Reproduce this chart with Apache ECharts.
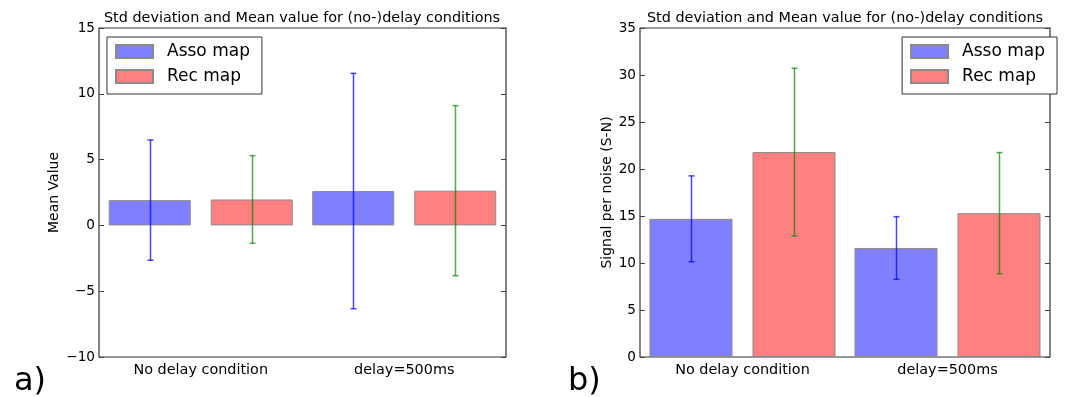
<!DOCTYPE html>
<html>
<head>
<meta charset="utf-8">
<script src="https://cdn.jsdelivr.net/npm/echarts@6/dist/echarts.min.js"></script>
<style>
html,body{margin:0;padding:0;background:#fff;}
#chart{width:1078px;height:397px;}
</style>
</head>
<body>
<div id="chart"></div>
<script>
// ---- data ----
const categories = ['No delay condition', 'delay=500ms'];
const seriesNames = ['Asso map', 'Rec map'];
const titleText = 'Std deviation and Mean value for (no-)delay conditions';
// chart a) Mean Value
const aAssoMean = [1.92, 2.61];
const aAssoStd  = [4.57, 8.94];
const aRecMean  = [1.97, 2.64];
const aRecStd   = [3.33, 6.46];
const aTicks = { min: -10, max: 15, interval: 5 };
// chart b) Signal per noise
const bAssoMean = [14.7, 11.6];
const bAssoStd  = [4.57, 3.33];
const bRecMean  = [21.8, 15.3];
const bRecStd   = [8.92, 6.45];
const bTicks = { min: 0, max: 35, interval: 5 };

// ---- styles ----
const FONT = 'DejaVu Sans';
const BLUE_FILL = '#8080ff';
const RED_FILL = '#ff8080';
const BLUE_ERR = 'rgba(0,0,255,0.72)';
const GREEN_ERR = 'rgba(0,128,0,0.68)';
const BAR_W = [82, 83];
const BAR_GAP = [20, 20];

function errData(means, stds) {
  return means.map((m, i) => [i, m - stds[i], m + stds[i]]);
}
function errSeries(name, means, stds, color, side, gi) {
  const off = side * (BAR_W[gi] + BAR_GAP[gi]) / 2;
  return {
    type: 'custom',
    name: name + ' err',
    xAxisIndex: gi,
    yAxisIndex: gi * 2,
    z: 5,
    silent: true,
    data: errData(means, stds),
    renderItem: function (params, api) {
      const c = api.value(0);
      const lo = api.coord([c, api.value(1)]);
      const hi = api.coord([c, api.value(2)]);
      const x = Math.round(lo[0] + off) + 0.5;
      const cap = 3;
      const st = { stroke: color, lineWidth: 1.5, fill: null };
      return {
        type: 'group',
        children: [
          { type: 'line', shape: { x1: x, y1: lo[1], x2: x, y2: hi[1] }, style: st },
          { type: 'line', shape: { x1: x - cap, y1: lo[1], x2: x + cap, y2: lo[1] }, style: st },
          { type: 'line', shape: { x1: x - cap, y1: hi[1], x2: x + cap, y2: hi[1] }, style: st }
        ]
      };
    }
  };
}
function barSeries(name, data, fill, gi) {
  return {
    type: 'bar',
    name: name,
    xAxisIndex: gi,
    yAxisIndex: gi * 2,
    data: data,
    barWidth: BAR_W[gi],
    barGap: (BAR_GAP[gi] / BAR_W[gi] * 100).toFixed(1) + '%',
    itemStyle: { color: fill, borderColor: '#8a8a8a', borderWidth: 1 },
    emphasis: { disabled: true }
  };
}
const minus = v => String(v).replace('-', '\u2212');
function yAx(gi, t, pos, name, nameGap) {
  return {
    type: 'value',
    gridIndex: gi,
    position: pos,
    min: t.min, max: t.max, interval: t.interval,
    name: name || '',
    nameLocation: 'middle',
    nameGap: nameGap || 0,
    nameTextStyle: { fontFamily: FONT, fontSize: 14, color: '#000' },
    axisLine: { show: false },
    axisTick: { show: true, inside: true, length: 5, lineStyle: { color: '#444' } },
    axisLabel: { show: pos === 'left', margin: 4, fontFamily: FONT, fontSize: 13.6, color: '#000', formatter: minus },
    splitLine: { show: false }
  };
}
function xAx(gi) {
  return {
    type: 'category',
    gridIndex: gi,
    data: categories,
    axisLine: { show: false },
    axisTick: { show: false },
    axisLabel: { margin: 6, fontFamily: FONT, fontSize: 14.4, color: '#000' },
    splitLine: { show: false }
  };
}
const legendBase = {
  orient: 'vertical',
  data: seriesNames,
  top: 37,
  itemWidth: 37,
  itemHeight: 13,
  itemGap: 8,
  padding: [6, 12, 9, 8],
  borderColor: '#333',
  borderWidth: 1,
  backgroundColor: '#fff',
  selectedMode: false,
  textStyle: { fontFamily: FONT, fontSize: 17, color: '#000', padding: [0, 0, 0, 9] },
  icon: 'rect'
};

const chart = echarts.init(document.getElementById('chart'), null, { renderer: 'canvas' });
chart.setOption({
  animation: false,
  backgroundColor: '#fff',
  title: [
    { text: titleText, left: 302, top: 11, textAlign: 'center', padding: 0,
      textStyle: { fontFamily: FONT, fontSize: 14.4, fontWeight: 'normal', color: '#000' } },
    { text: titleText, left: 845, top: 11, textAlign: 'center', padding: 0,
      textStyle: { fontFamily: FONT, fontSize: 14.4, fontWeight: 'normal', color: '#000' } }
  ],
  legend: [
    Object.assign({}, legendBase, { left: 107 }),
    Object.assign({}, legendBase, { right: 21 })
  ],
  grid: [
    { left: 99, top: 28, width: 407, height: 329, show: true, borderColor: '#333', borderWidth: 1.2, backgroundColor: 'transparent' },
    { left: 640, top: 28, width: 410, height: 329, show: true, borderColor: '#333', borderWidth: 1.2, backgroundColor: 'transparent' }
  ],
  xAxis: [xAx(0), xAx(1)],
  yAxis: [
    yAx(0, aTicks, 'left', 'Mean Value', 38),
    yAx(0, aTicks, 'right'),
    yAx(1, bTicks, 'left', 'Signal per noise (S-N)', 22),
    yAx(1, bTicks, 'right')
  ],
  series: [
    barSeries(seriesNames[0], aAssoMean, BLUE_FILL, 0),
    barSeries(seriesNames[1], aRecMean, RED_FILL, 0),
    barSeries(seriesNames[0], bAssoMean, BLUE_FILL, 1),
    barSeries(seriesNames[1], bRecMean, RED_FILL, 1),
    errSeries('Asso map', aAssoMean, aAssoStd, BLUE_ERR, -1, 0),
    errSeries('Rec map', aRecMean, aRecStd, GREEN_ERR, 1, 0),
    errSeries('Asso map', bAssoMean, bAssoStd, BLUE_ERR, -1, 1),
    errSeries('Rec map', bRecMean, bRecStd, GREEN_ERR, 1, 1)
  ],
  graphic: [
    { type: 'text', left: 14, top: 366, style: { text: 'a)', font: '32px "DejaVu Sans"', fill: '#000' } },
    { type: 'text', left: 568, top: 366, style: { text: 'b)', font: '32px "DejaVu Sans"', fill: '#000' } }
  ]
});
</script>
</body>
</html>
